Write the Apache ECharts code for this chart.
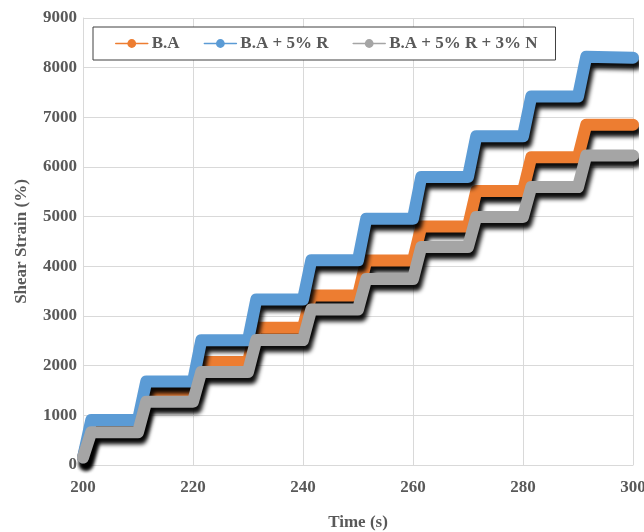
<!DOCTYPE html>
<html>
<head>
<meta charset="utf-8">
<style>
  html, body { margin: 0; padding: 0; background: #fff; }
  #chart { width: 644px; height: 532px; }
</style>
<script src="https://cdn.jsdelivr.net/npm/echarts@6/dist/echarts.min.js"></script>
</head>
<body>
<div id="chart"></div>
<script>
// corner times of the step curves (s)
var times = [200, 201.5, 210, 211.5, 220, 221.5, 230, 231.5, 240, 241.5, 250, 251.5,
             260, 261.5, 270, 271.5, 280, 281.5, 290, 291.5, 300];
// shear strain (%) at each corner
var ba = [150, 760, 760, 1470, 1470, 2075, 2075, 2765, 2765, 3415, 3415, 4115,
          4115, 4800, 4800, 5515, 5515, 6195, 6195, 6850, 6850];
var ba5r = [150, 905, 905, 1680, 1680, 2510, 2510, 3330, 3330, 4120, 4120, 4960,
            4960, 5800, 5800, 6620, 6620, 7420, 7420, 8220, 8200];
var ba5r3n = [150, 660, 660, 1275, 1275, 1875, 1875, 2515, 2515, 3130, 3130, 3745,
              3745, 4390, 4390, 4995, 4995, 5595, 5595, 6230, 6230];
var names = ['B.A', 'B.A + 5% R', 'B.A + 5% R + 3% N'];
var colors = ['#ED7D31', '#5B9BD5', '#A5A5A5'];

function pairs(vals) {
	var out = [];
	for (var i = 0; i < times.length; i++) out.push([times[i], vals[i]]);
	return out;
}

var font = '"Liberation Serif", "Times New Roman", serif';
var txt = '#595959';

function makeSeries(i, vals) {
	return {
		name: names[i],
		type: 'line',
		data: pairs(vals),
		symbol: 'circle',
		symbolSize: 11,
		showSymbol: false,
		clip: false,
		lineStyle: {
			width: 12,
			color: colors[i],
			cap: 'round',
			join: 'round',
			shadowColor: 'rgba(0,0,0,0.95)',
			shadowBlur: 4,
			shadowOffsetX: 3,
			shadowOffsetY: 6
		},
		itemStyle: { color: colors[i] },
		emphasis: { disabled: true }
	};
}

var chart = echarts.init(document.getElementById('chart'));
chart.setOption({
	animation: false,
	grid: { left: 83, right: 11, top: 18, bottom: 67, containLabel: false, outerBoundsMode: 'none' },
	legend: {
		data: names.map(function (n, i) {
			return {
				name: n,
				itemStyle: { color: colors[i] },
				lineStyle: { width: 1.5, color: colors[i], shadowBlur: 0, shadowOffsetX: 0, shadowOffsetY: 0 }
			};
		}),
		left: 93,
		top: 27,
		padding: [8, 18, 8, 22],
		itemGap: 24,
		itemWidth: 32,
		itemHeight: 11,
		backgroundColor: '#fff',
		borderColor: '#404040',
		borderWidth: 1,
		textStyle: { fontFamily: font, fontWeight: 'bold', fontSize: 17, color: txt, padding: [0, 0, 0, -1] }
	},
	xAxis: {
		type: 'value',
		min: 200,
		max: 300,
		interval: 20,
		name: 'Time (s)',
		nameLocation: 'middle',
		nameGap: 49,
		nameTextStyle: { fontFamily: font, fontWeight: 'bold', fontSize: 17, color: txt },
		axisLine: { show: true, lineStyle: { color: '#D9D9D9' } },
		axisTick: { show: false },
		axisLabel: { fontFamily: font, fontWeight: 'bold', fontSize: 17, color: txt, margin: 14 },
		splitLine: { show: true, lineStyle: { color: '#D9D9D9' } }
	},
	yAxis: {
		type: 'value',
		min: 0,
		max: 9000,
		interval: 1000,
		name: 'Shear Strain (%)',
		nameLocation: 'middle',
		nameGap: 53,
		nameTextStyle: { fontFamily: font, fontWeight: 'bold', fontSize: 17, color: txt },
		axisLine: { show: true, lineStyle: { color: '#D9D9D9' } },
		axisTick: { show: false },
		axisLabel: {
			fontFamily: font, fontWeight: 'bold', fontSize: 17, color: txt, margin: 6,
			formatter: function (v) { return String(v); }
		},
		splitLine: { show: true, lineStyle: { color: '#D9D9D9' } }
	},
	series: [makeSeries(0, ba), makeSeries(1, ba5r), makeSeries(2, ba5r3n)]
});
</script>
</body>
</html>
